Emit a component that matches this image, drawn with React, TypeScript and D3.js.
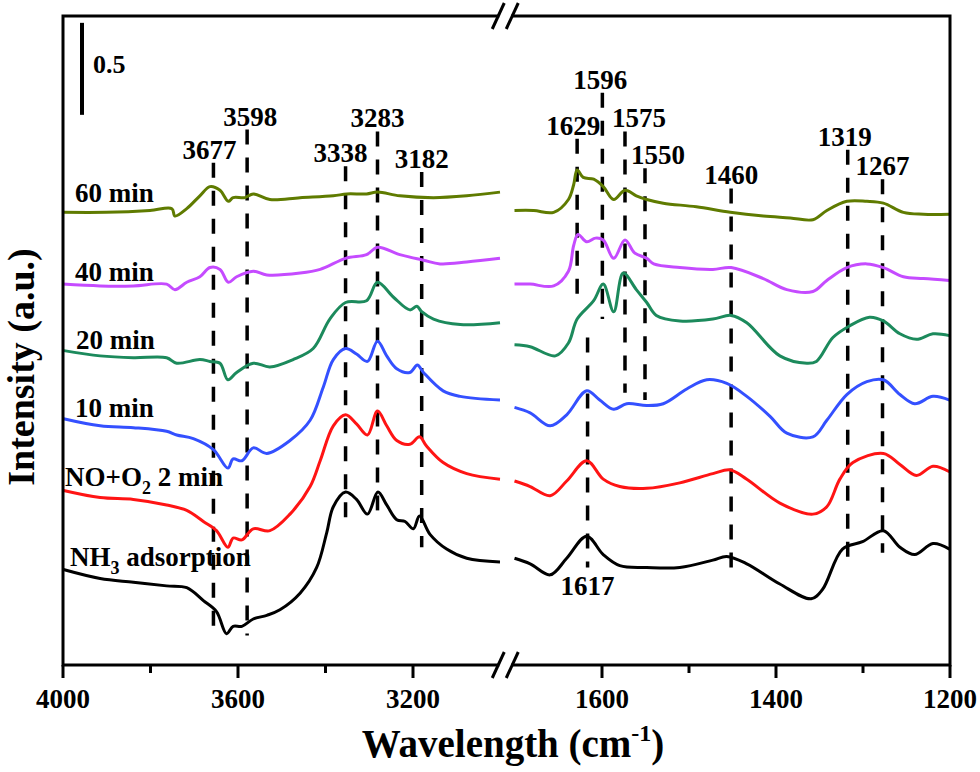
import React, { useEffect, useRef } from "react";
import * as d3 from "d3";

// wavenumber (cm-1) / intensity (a.u.) pairs, offsets included
const min60Left = [[4000,2.46],[3900,2.46],[3800,2.47],[3750,2.48],[3743,2.44],[3716,2.48],[3686,2.55],[3663,2.60],[3640,2.58],[3621,2.52],[3610,2.54],[3583,2.54],[3564,2.56],[3526,2.53],[3457,2.54],[3381,2.55],[3350,2.56],[3305,2.56],[3280,2.57],[3229,2.55],[3152,2.54],[3076,2.55],[3000,2.57]];
const min60Right = [[1700,2.47],[1678,2.47],[1655,2.46],[1638,2.53],[1632,2.61],[1628,2.69],[1621,2.65],[1609,2.64],[1598,2.60],[1586,2.53],[1573,2.58],[1560,2.55],[1548,2.53],[1529,2.51],[1491,2.49],[1452,2.46],[1414,2.44],[1383,2.43],[1357,2.42],[1341,2.47],[1318,2.52],[1295,2.52],[1276,2.51],[1253,2.46],[1230,2.45],[1200,2.45]];

const min40Left = [[4000,2.07],[3914,2.06],[3838,2.06],[3762,2.07],[3743,2.04],[3716,2.08],[3686,2.11],[3663,2.16],[3640,2.15],[3621,2.08],[3602,2.11],[3564,2.14],[3533,2.12],[3457,2.13],[3411,2.15],[3353,2.21],[3305,2.23],[3280,2.27],[3229,2.23],[3175,2.20],[3137,2.18],[3076,2.19],[3000,2.21]];
const min40Right = [[1700,2.07],[1682,2.07],[1655,2.06],[1638,2.14],[1632,2.28],[1627,2.34],[1617,2.30],[1607,2.32],[1598,2.31],[1586,2.21],[1573,2.31],[1562,2.24],[1548,2.21],[1540,2.18],[1510,2.16],[1472,2.15],[1451,2.16],[1414,2.10],[1387,2.04],[1357,2.03],[1341,2.09],[1318,2.16],[1295,2.18],[1276,2.16],[1253,2.11],[1230,2.10],[1200,2.09]];

const min20Left = [[4000,1.71],[3914,1.68],[3838,1.67],[3762,1.67],[3739,1.64],[3686,1.66],[3663,1.65],[3640,1.64],[3622,1.55],[3602,1.59],[3564,1.64],[3526,1.62],[3473,1.66],[3427,1.72],[3389,1.88],[3353,1.97],[3305,1.98],[3280,2.08],[3244,2.00],[3206,1.93],[3190,1.95],[3179,1.92],[3152,1.88],[3091,1.85],[3000,1.86]];
const min20Right = [[1700,1.74],[1682,1.73],[1653,1.68],[1638,1.75],[1628,1.88],[1609,1.98],[1598,2.07],[1586,1.92],[1575,2.13],[1560,2.04],[1548,1.97],[1537,1.90],[1510,1.87],[1472,1.88],[1451,1.90],[1433,1.86],[1395,1.68],[1364,1.64],[1353,1.65],[1334,1.78],[1316,1.84],[1292,1.89],[1276,1.87],[1257,1.80],[1238,1.77],[1219,1.80],[1200,1.79]];

const min10Left = [[4000,1.34],[3914,1.30],[3838,1.29],[3762,1.27],[3739,1.25],[3701,1.23],[3655,1.17],[3622,1.07],[3610,1.12],[3590,1.11],[3564,1.18],[3533,1.15],[3480,1.22],[3434,1.33],[3404,1.51],[3381,1.66],[3353,1.72],[3328,1.69],[3303,1.65],[3280,1.76],[3259,1.68],[3236,1.61],[3206,1.59],[3189,1.63],[3175,1.59],[3130,1.49],[3091,1.46],[3000,1.44]];
const min10Right = [[1700,1.40],[1682,1.37],[1659,1.30],[1640,1.36],[1617,1.49],[1602,1.44],[1586,1.39],[1571,1.42],[1548,1.41],[1529,1.42],[1502,1.50],[1479,1.55],[1456,1.53],[1433,1.46],[1406,1.35],[1387,1.26],[1357,1.24],[1341,1.33],[1318,1.47],[1295,1.54],[1276,1.55],[1257,1.47],[1240,1.42],[1219,1.46],[1200,1.44]];

const no2Left = [[4000,0.95],[3914,0.91],[3838,0.90],[3762,0.87],[3716,0.84],[3678,0.78],[3648,0.73],[3622,0.64],[3610,0.69],[3590,0.68],[3564,0.74],[3526,0.73],[3480,0.82],[3434,0.97],[3411,1.11],[3381,1.30],[3353,1.36],[3328,1.31],[3303,1.25],[3280,1.38],[3259,1.30],[3236,1.22],[3206,1.20],[3184,1.24],[3168,1.19],[3130,1.10],[3076,1.04],[3000,1.01]];
const no2Right = [[1700,1.00],[1682,0.97],[1659,0.92],[1640,1.00],[1617,1.11],[1598,1.01],[1579,0.97],[1548,0.96],[1510,0.99],[1472,1.04],[1452,1.06],[1433,1.01],[1395,0.88],[1357,0.82],[1341,0.86],[1326,1.01],[1311,1.10],[1276,1.15],[1257,1.09],[1238,1.03],[1219,1.08],[1200,1.05]];

const nh3Left = [[4000,0.52],[3914,0.47],[3838,0.45],[3762,0.43],[3716,0.42],[3678,0.35],[3648,0.29],[3625,0.17],[3610,0.21],[3590,0.21],[3564,0.25],[3533,0.27],[3503,0.30],[3457,0.39],[3419,0.53],[3396,0.72],[3381,0.86],[3353,0.94],[3328,0.90],[3303,0.82],[3279,0.94],[3259,0.87],[3236,0.79],[3217,0.78],[3198,0.74],[3184,0.81],[3160,0.71],[3122,0.63],[3076,0.58],[3000,0.56]];
const nh3Right = [[1700,0.58],[1682,0.55],[1659,0.49],[1640,0.58],[1617,0.70],[1598,0.60],[1579,0.54],[1548,0.53],[1510,0.53],[1472,0.57],[1456,0.59],[1433,0.55],[1395,0.44],[1359,0.36],[1346,0.41],[1323,0.63],[1300,0.67],[1276,0.73],[1257,0.64],[1240,0.60],[1219,0.66],[1200,0.63]];

// series labels, subscripts marked with _
const seriesNames = ["60 min", "40 min", "20 min", "10 min", "NO+O_2 2 min", "NH_3 adsorption"];
const seriesLeft = [min60Left, min40Left, min20Left, min10Left, no2Left, nh3Left];
const seriesRight = [min60Right, min40Right, min20Right, min10Right, no2Right, nh3Right];
const seriesColors = ["#5f7b00", "#c54bff", "#1c8a5c", "#3450ff", "#ff1414", "#000000"];

// dashed band markers
const peakLabels = ["3677", "3598", "3338", "3283", "3182", "1629", "1596", "1575", "1550", "1460", "1319", "1267", "1617"];
const peakPos = [3655, 3578, 3353, 3280, 3179, 1628, 1599, 1573, 1550, 1451, 1317, 1277, 1616];
const peakTop = [2.73, 2.91, 2.71, 2.90, 2.68, 2.86, 3.11, 2.90, 2.70, 2.59, 2.80, 2.64, 1.78];
const peakBottom = [0.17, 0.16, 0.78, 0.80, 0.64, 1.95, 1.88, 1.48, 1.44, 0.50, 0.53, 0.61, 0.53];

const majorLeft = [4000, 3600, 3200];
const minorLeft = [3800, 3400];
const majorRight = [1600, 1400, 1200];
const minorRight = [1500, 1300];

const scaleBar = 0.5;

const FONT = "Liberation Serif, Times New Roman, DejaVu Serif, serif";

export default function App() {
  const canvas = useRef<SVGSVGElement>(null);

  useEffect(() => {
    const width = 980;
    const height = 772;
    const margin = { top: 16, left: 63, bottom: 107, right: 30 };
    const bottom = height - margin.bottom;
    const right = width - margin.right;

    const svg = d3.select(canvas.current);
    svg.selectAll("*").remove();
    svg.append("rect").attr("width", width).attr("height", height).attr("fill", "#fff");

    const xL = d3.scaleLinear().domain([4000, 3000]).range([62.5, 500]);
    const xR = d3.scaleLinear().domain([1700, 1200]).range([514.5, 949.5]);
    const xOf = (w: number) => (w > 2000 ? xL(w) : xR(w));
    const y = d3.scaleLinear().domain([0, (bottom - margin.top) / 184]).range([bottom, margin.top]);

    const line = d3
      .line<number[]>()
      .x((d) => xOf(d[0]))
      .y((d) => y(d[1]))
      .curve(d3.curveCatmullRom.alpha(0.5));

    const bold = (sel: any, size: number) =>
      sel.style("font-family", FONT).style("font-weight", "bold").style("font-size", size + "px").attr("fill", "#000");

    // dashed markers
    const marks = svg.append("g");
    peakLabels.forEach((lab, i) => {
      marks
        .append("line")
        .attr("x1", xOf(peakPos[i]))
        .attr("x2", xOf(peakPos[i]))
        .attr("y1", y(peakTop[i]))
        .attr("y2", y(peakBottom[i]))
        .attr("stroke", "#000")
        .attr("stroke-width", 3.5)
        .attr("stroke-dasharray", "15,13");
    });

    // spectra
    const curves = svg.append("g");
    seriesNames.forEach((name, i) => {
      [seriesLeft[i], seriesRight[i]].forEach((seg) => {
        curves
          .append("path")
          .attr("d", line(seg as number[][]))
          .attr("fill", "none")
          .attr("stroke", seriesColors[i])
          .attr("stroke-width", 3)
          .attr("stroke-linejoin", "round");
      });
    });

    // peak labels
    const nudge: Record<string, number> = { "3677": -4, "3598": 3, "3338": -5, "1629": -4, "1596": -2, "1575": 14, "1550": 13, "1319": -3 };
    peakLabels.forEach((lab, i) => {
      const below = lab === "1617";
      svg
        .append("text")
        .attr("x", xOf(peakPos[i]) + (nudge[lab] || 0))
        .attr("y", below ? y(peakBottom[i]) + 28 : y(peakTop[i]) - 4)
        .attr("text-anchor", "middle")
        .call(bold, 27)
        .text(lab);
    });

    // series names
    const lift = [10, 3, 1, 1, 4, 3];
    const indent = [12, 12, 13, 12, 2, 7];
    seriesNames.forEach((name, i) => {
      const t = svg
        .append("text")
        .attr("x", margin.left + indent[i])
        .attr("y", y(seriesLeft[i][0][1]) - lift[i])
        .call(bold, 27);
      const parts = name.split("_");
      t.append("tspan").text(parts[0]);
      if (parts.length > 1) {
        t.append("tspan").style("font-size", "18px").attr("dy", 8).text(parts[1][0]);
        t.append("tspan").attr("dy", -8).text(parts[1].slice(1));
      }
    });

    // scale bar
    const barTop = 3.49;
    svg
      .append("line")
      .attr("x1", margin.left + 19)
      .attr("x2", margin.left + 19)
      .attr("y1", y(barTop))
      .attr("y2", y(barTop - scaleBar))
      .attr("stroke", "#000")
      .attr("stroke-width", 4);
    svg
      .append("text")
      .attr("x", margin.left + 30)
      .attr("y", 73)
      .call(bold, 26)
      .text(scaleBar);

    // axes
    const axes = svg.append("g").attr("transform", `translate(0,${bottom})`);
    const styleAxis = (g: any) => {
      g.select(".domain").remove();
      g.selectAll("line").attr("stroke", "#000").attr("stroke-width", 3);
      g.selectAll("text").call(bold, 27);
    };
    const fmt = d3.format("d");
    axes.append("g").call(d3.axisBottom(xL).tickValues(majorLeft).tickSize(13).tickPadding(11).tickFormat(fmt)).call(styleAxis);
    axes.append("g").call(d3.axisBottom(xR).tickValues(majorRight).tickSize(13).tickPadding(11).tickFormat(fmt)).call(styleAxis);
    axes.append("g").call(d3.axisBottom(xL).tickValues(minorLeft).tickSize(8).tickFormat(() => "")).call(styleAxis);
    axes.append("g").call(d3.axisBottom(xR).tickValues(minorRight).tickSize(8).tickFormat(() => "")).call(styleAxis);

    // frame
    svg
      .append("rect")
      .attr("x", margin.left)
      .attr("y", margin.top)
      .attr("width", right - margin.left)
      .attr("height", bottom - margin.top)
      .attr("fill", "none")
      .attr("stroke", "#000")
      .attr("stroke-width", 3);

    // axis break marks
    const bx = (xL(3000) + xR(1700)) / 2 - 2;
    [margin.top, bottom].forEach((yy) => {
      svg
        .append("rect")
        .attr("x", bx - 6)
        .attr("y", yy - 3)
        .attr("width", 12)
        .attr("height", 6)
        .attr("fill", "#fff");
      [-7, 7].forEach((off) => {
        svg
          .append("line")
          .attr("x1", bx + off - 6)
          .attr("y1", yy + 13)
          .attr("x2", bx + off + 6)
          .attr("y2", yy - 13)
          .attr("stroke", "#000")
          .attr("stroke-width", 3);
      });
    });

    // titles
    const xt = svg
      .append("text")
      .attr("x", 513)
      .attr("y", 757)
      .attr("text-anchor", "middle")
      .call(bold, 39);
    xt.append("tspan").text("Wavelength (cm");
    xt.append("tspan").style("font-size", "24px").attr("dy", -16).text("-1");
    xt.append("tspan").attr("dy", 16).text(")");

    svg
      .append("text")
      .attr("transform", "translate(34,367) rotate(-90)")
      .attr("text-anchor", "middle")
      .call(bold, 38)
      .text("Intensity (a.u.)");
  }, []);

  return (
    <svg
      ref={canvas}
      width={980}
      height={772}
      style={{ position: "absolute", left: 0, top: 0, display: "block" }}
    />
  );
}
